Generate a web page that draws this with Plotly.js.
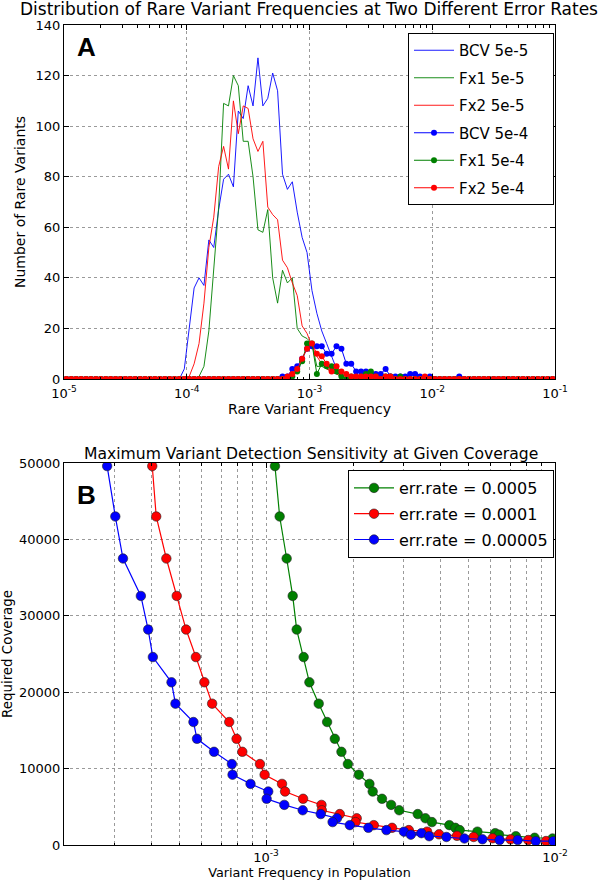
<!DOCTYPE html>
<html><head><meta charset="utf-8">
<script src="https://cdn.plot.ly/plotly-3.0.1.min.js"></script>
<style>html,body{margin:0;padding:0;background:#fff}#chart{width:600px;height:885px}</style>
</head><body><div id="chart"></div>
<script>
// ---------- Panel A: rare variant frequency histogram (100 log bins, 1e-5 .. 1e-1) ----------
const binCount = 100;                       // 25 bins per decade
const binFreq = [];
for (let i = 0; i < binCount; i++) binFreq.push(Math.pow(10, -5 + (i + 0.5) / 25));

const bcv5e5 = [
  0,0,0,0,0,0,0,0,0,0,0,0,0,0,0,0,0,0,0,0,0,0,0,0,4,
  21,36,40,37,55,52,67,79,81,76,106,103,116,108,127,108,111,121,114,81,75,78,66,56,50,
  35,26,19,14,9,4,1,0,0,0,0,0,0,0,0,0,0,0,0,0,0,0,0,0,0,
  0,0,0,0,0,0,0,0,0,0,0,0,0,0,0,0,0,0,0,0,0,0,0,0,0];
const fx1_5e5 = [
  0,0,0,0,0,0,0,0,0,0,0,0,0,0,0,0,0,0,0,0,0,0,0,0,0,
  0,0,1,5,19,43,68,109,108,120,116,94,94,80,59,58,67,40,30,43,38,40,20,17,16,
  14,5,5,4,3,2,1,0,0,0,0,0,0,0,0,0,0,0,0,0,0,0,0,0,0,
  0,0,0,0,0,0,0,0,0,0,0,0,0,0,0,0,0,0,0,0,0,0,0,0,0];
const fx2_5e5 = [
  0,0,0,0,0,0,0,0,0,0,0,0,0,0,0,0,0,0,0,0,0,0,0,0,0,
  1,6,14,30,52,64,84,92,83,110,97,108,107,95,90,94,68,65,63,47,44,38,33,21,18,
  13,9,6,4,3,2,1,0,0,0,0,0,0,0,0,0,0,0,0,0,0,0,0,0,0,
  0,0,0,0,0,0,0,0,0,0,0,0,0,0,0,0,0,0,0,0,0,0,0,0,0];
const bcv5e4 = [
  0,0,0,0,0,0,0,0,0,0,0,0,0,0,0,0,0,0,0,0,0,0,0,0,0,
  0,0,0,0,0,0,0,0,0,0,0,0,0,0,0,0,0,0,0,1,1,4,5,8,12,
  13,13,13,10,10,13,12,6,6,3,3,3,2,2,2,4,1,1,1,1,2,2,1,0,1,
  0,0,0,0,0,1,0,0,0,0,0,0,0,0,0,0,0,0,0,0,0,0,0,0,0];
const fx1_5e4 = [
  0,0,0,0,0,0,0,0,0,0,0,0,0,0,0,0,0,0,0,0,0,0,0,0,0,
  0,0,0,0,0,0,0,0,0,0,0,0,0,0,0,0,0,0,0,0,0,1,3,7,14,
  14,2,6,5,5,3,1,0,1,0,1,2,3,1,0,1,1,0,1,0,0,0,0,0,0,
  0,0,0,0,0,0,0,0,0,0,0,0,0,0,0,0,0,0,0,0,0,0,0,0,0];
const fx2_5e4 = [
  0,0,0,0,0,0,0,0,0,0,0,0,0,0,0,0,0,0,0,0,0,0,0,0,0,
  0,0,0,0,0,0,0,0,0,0,0,0,0,0,0,0,0,0,0,0,1,2,4,8,12,
  14,10,9,6,3,5,3,2,1,1,1,1,1,1,0,1,1,0,0,0,0,0,0,1,0,
  0,0,0,0,0,0,0,0,0,0,0,0,0,0,0,0,0,0,0,0,0,0,0,0,0];

const namesA = ['BCV 5e-5','Fx1 5e-5','Fx2 5e-5','BCV 5e-4','Fx1 5e-4','Fx2 5e-4'];
const tickValsA = [1e-5, 1e-4, 1e-3, 1e-2, 1e-1];
const tickTextA = ['10<sup>-5</sup>','10<sup>-4</sup>','10<sup>-3</sup>','10<sup>-2</sup>','10<sup>-1</sup>'];
const minorA = [2e-5,3e-5,4e-5,5e-5,6e-5,7e-5,8e-5,9e-5,
                2e-4,3e-4,4e-4,5e-4,6e-4,7e-4,8e-4,9e-4,
                2e-3,3e-3,4e-3,5e-3,6e-3,7e-3,8e-3,9e-3,
                2e-2,3e-2,4e-2,5e-2,6e-2,7e-2,8e-2,9e-2];

// ---------- Panel B: required coverage vs variant frequency ----------
const green0005F = [1.074e-3,1.115e-3,1.179e-3,1.237e-3,1.277e-3,1.35e-3,1.413e-3,1.522e-3,1.627e-3,1.73e-3,
  1.824e-3,1.92e-3,2.095e-3,2.28e-3,2.34e-3,2.52e-3,2.71e-3,2.89e-3,3.35e-3,3.56e-3,
  3.75e-3,4.31e-3,4.52e-3,4.68e-3,5.39e-3,6.21e-3,6.40e-3,7.32e-3,8.50e-3,9.81e-3];
const green0005C = [49600,43000,37500,32600,28200,24600,21300,18500,16100,13900,
  12200,10600,9200,8000,7000,6050,5250,4550,4050,3500,
  3000,2600,2250,1950,1750,1550,1350,1150,950,850];
const red0001F = [4.04e-4,4.17e-4,4.52e-4,4.91e-4,5.29e-4,5.72e-4,6.12e-4,6.51e-4,7.46e-4,7.91e-4,
  8.28e-4,9.53e-4,9.89e-4,1.136e-3,1.164e-3,1.344e-3,1.556e-3,1.56e-3,1.80e-3,2.06e-3,
  2.04e-3,2.36e-3,2.73e-3,3.12e-3,3.61e-3,3.97e-3,4.58e-3,5.23e-3,6.08e-3,7.02e-3,
  8.08e-3,9.31e-3];
const red0001C = [49600,43000,37500,32600,28200,24600,21300,18500,16100,13900,
  12200,10600,9200,8000,7000,6050,5250,4550,4050,3500,
  3000,2600,2250,1950,1750,1400,1200,1050,880,740,
  650,520];
const blue00005F = [2.82e-4,3.01e-4,3.20e-4,3.69e-4,3.91e-4,4.06e-4,4.71e-4,4.86e-4,5.61e-4,5.77e-4,
  6.61e-4,7.62e-4,7.66e-4,8.84e-4,1.018e-3,1.005e-3,1.157e-3,1.34e-3,1.547e-3,1.76e-3,
  1.70e-3,1.95e-3,2.26e-3,2.61e-3,3.00e-3,3.45e-3,3.17e-3,3.67e-3,4.21e-3,4.86e-3,
  5.61e-3,6.43e-3,7.43e-3,8.58e-3,9.86e-3];
const blue00005C = [49600,43000,37500,32600,28200,24600,21300,18500,16100,13900,
  12200,10600,9200,8000,7000,6050,5250,4550,4050,3500,
  3000,2600,2250,1950,1750,1550,1350,1150,1050,850,
  750,650,650,500,500];

const namesB = ['err.rate = 0.0005','err.rate = 0.0001','err.rate = 0.00005'];
const tickValsB = [1e-3, 1e-2];
const tickTextB = ['10<sup>-3</sup>','10<sup>-2</sup>'];
const minorB = [2e-4,3e-4,4e-4,5e-4,6e-4,7e-4,8e-4,9e-4,
                2e-3,3e-3,4e-3,5e-3,6e-3,7e-3,8e-3,9e-3];

// ---------- styles ----------
const FONT = 'DejaVu Sans, Verdana, sans-serif';
const BLUE = '#0000ff', GREEN = '#008000', RED = '#ff0000';
const PAD = '\u00a0\u00a0\u00a0\u00a0';

function thin(name, y, color, g) {
  return {type:'scatter', mode:'lines', x: binFreq, y: y, name: name + PAD, legendgroup: g,
          line:{color: color, width: 0.9}, xaxis:'x', yaxis:'y', legend:'legend'};
}
function dotted(name, y, color, g) {
  return {type:'scatter', mode:'lines+markers', x: binFreq, y: y, name: name + PAD, legendgroup: g,
          line:{color: color, width: 1}, marker:{color: color, size: 6, line:{width:0}},
          xaxis:'x', yaxis:'y', legend:'legend'};
}
function covTrace(name, x, y, color, g) {
  return {type:'scatter', mode:'lines+markers', x: x, y: y, name: name, legendgroup: g,
          line:{color: color, width: 1.2},
          marker:{color: color, size: 9.5, line:{color:'#222', width:0.6}},
          xaxis:'x2', yaxis:'y2', legend:'legend2'};
}

const data = [
  thin(namesA[0], bcv5e5, BLUE, 'a1'),
  thin(namesA[1], fx1_5e5, GREEN, 'a2'),
  thin(namesA[2], fx2_5e5, RED, 'a3'),
  dotted(namesA[3], bcv5e4, BLUE, 'a4'),
  dotted(namesA[4], fx1_5e4, GREEN, 'a5'),
  dotted(namesA[5], fx2_5e4, RED, 'a6'),
  covTrace(namesB[0], green0005F, green0005C, GREEN, 'b1'),
  covTrace(namesB[1], red0001F, red0001C, RED, 'b2'),
  covTrace(namesB[2], blue00005F, blue00005C, BLUE, 'b3')
];

const W = 600, H = 885;
const axisCommon = {
  showline:true, linecolor:'#000', linewidth:1, mirror:'allticks',
  ticks:'inside', ticklen:5, tickcolor:'#000', tickwidth:1,
  showgrid:true, gridcolor:'#9a9a9a', griddash:'dot', gridwidth:1,
  zeroline:false, tickfont:{family:FONT, size:13, color:'#000'}
};

const layout = {
  width: W, height: H,
  margin:{l:0, r:0, t:0, b:0},
  paper_bgcolor:'#fff', plot_bgcolor:'#fff',
  font:{family:FONT, color:'#000'},
  showlegend:true,
  title:{text:'Distribution of Rare Variant Frequencies at Two Different Error Rates',
         font:{family:FONT, size:17, color:'#000'},
         xref:'container', yref:'container', x:309/W, xanchor:'center', y:1-9/H, yanchor:'middle'},
  xaxis: Object.assign({}, axisCommon, {
    type:'log', range:[-5,-1], domain:[64/W, 555/W], anchor:'y',
    tickmode:'array', tickvals: tickValsA, ticktext: tickTextA, ticklabelstandoff:2,
    minor:{tickmode:'array', tickvals: minorA, ticks:'inside', ticklen:2.5, tickcolor:'#000', showgrid:false},
    title:{text:'Rare Variant Frequency', font:{family:FONT, size:14}, standoff:2}
  }),
  yaxis: Object.assign({}, axisCommon, {
    range:[0,140], dtick:20, domain:[1-379/H, 1-25/H], anchor:'x',
    title:{text:'Number of Rare Variants', font:{family:FONT, size:14}, standoff:6}
  }),
  xaxis2: Object.assign({}, axisCommon, {
    type:'log', range:[Math.log10(2e-4), -2], domain:[64/W, 555/W], anchor:'y2',
    tickmode:'array', tickvals: tickValsB, ticktext: tickTextB,
    minor:{tickmode:'array', tickvals: minorB, ticks:'inside', ticklen:2.5, tickcolor:'#000',
           showgrid:true, gridcolor:'#9a9a9a', griddash:'dot', gridwidth:1},
    title:{text:'Variant Frequency in Population', font:{family:FONT, size:12.8}, standoff:3}
  }),
  yaxis2: Object.assign({}, axisCommon, {
    range:[0,50000], dtick:10000, tickformat:'d', domain:[1-845/H, 1-463/H], anchor:'x2',
    title:{text:'Required Coverage', font:{family:FONT, size:13.4}, standoff:3}
  }),
  legend:{x:408/W, y:1-33/H, xanchor:'left', yanchor:'top', bgcolor:'#fff',
          bordercolor:'#000', borderwidth:1, font:{family:FONT, size:15, color:'#000'},
          itemwidth:40, traceorder:'grouped', tracegroupgap:5},
  legend2:{x:348/W, y:1-470/H, xanchor:'left', yanchor:'top', bgcolor:'#fff',
          bordercolor:'#000', borderwidth:1, font:{family:FONT, size:16, color:'#000'},
          itemwidth:40, traceorder:'grouped', tracegroupgap:2},
  annotations:[
    {text:'Maximum Variant Detection Sensitivity at Given Coverage',
     xref:'paper', yref:'paper', x:311/W, y:1-454/H, xanchor:'center', yanchor:'middle',
     showarrow:false, font:{family:FONT, size:15.6, color:'#000'}},
    {text:'<b>A</b>', xref:'paper', yref:'paper', x:86/W, y:1-47/H, xanchor:'center', yanchor:'middle',
     showarrow:false, font:{family:'Liberation Sans, Arial, sans-serif', size:26, color:'#000'}},
    {text:'<b>B</b>', xref:'paper', yref:'paper', x:86/W, y:1-495/H, xanchor:'center', yanchor:'middle',
     showarrow:false, font:{family:'Liberation Sans, Arial, sans-serif', size:26, color:'#000'}}
  ]
};

Plotly.newPlot('chart', data, layout, {staticPlot:true, displayModeBar:false});
</script>
</body></html>
